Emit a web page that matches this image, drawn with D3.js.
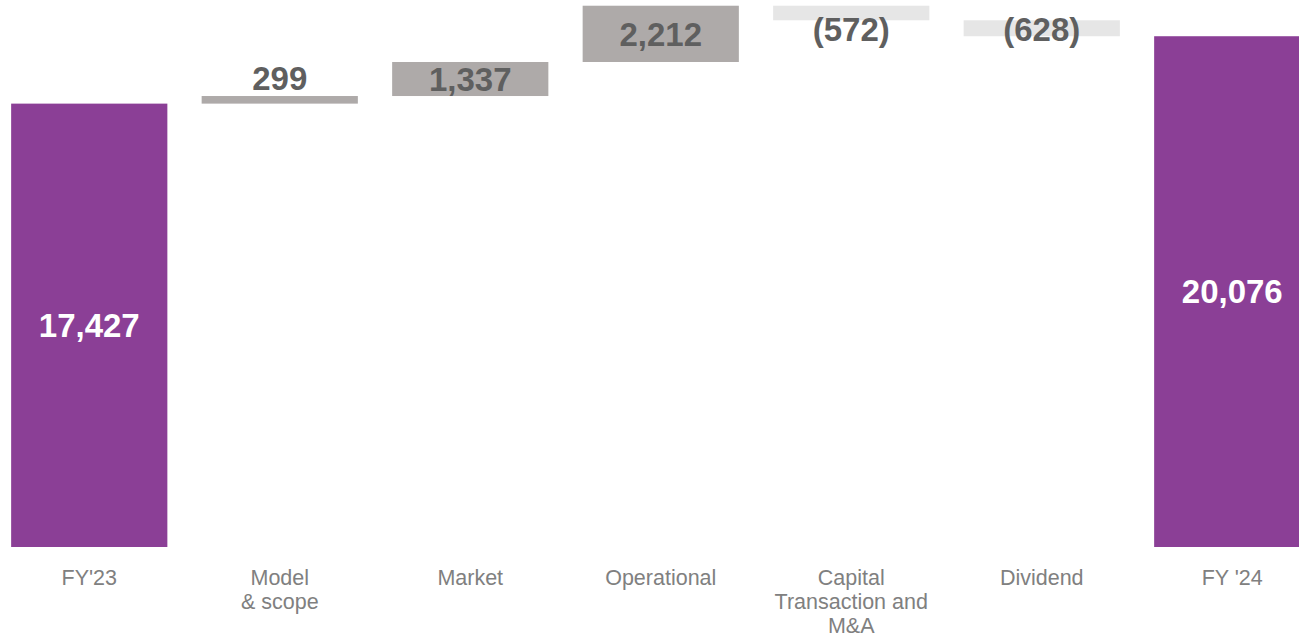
<!DOCTYPE html>
<html>
<head>
<meta charset="utf-8">
<script src="https://cdn.jsdelivr.net/npm/d3@7"></script>
<style>
  html, body { margin: 0; padding: 0; background: #ffffff; }
  svg { display: block; }
</style>
</head>
<body>
<svg id="chart" width="1299" height="640"></svg>
<script>
// Waterfall: FY'23 to FY'24 bridge
const categories = ["FY'23", "Model\n& scope", "Market", "Operational", "Capital\nTransaction and\nM&A", "Dividend", "FY '24"];
const kinds      = ["total", "delta", "delta", "delta", "delta", "delta", "total"];
const values     = [17427, 299, 1337, 2212, -572, -628, 20076];

const W = 1299, H = 640;
const svg = d3.select("#chart");

// running totals -> start/end for each step
let running = 0;
const steps = categories.map((c, i) => {
  let y0, y1;
  if (kinds[i] === "total") { y0 = 0; y1 = values[i]; running = values[i]; }
  else { y0 = running; y1 = running + values[i]; running = y1; }
  return { cat: c, kind: kinds[i], value: values[i], y0, y1 };
});

const x = d3.scaleBand()
  .domain(categories)
  .range([-6, 1327.5])
  .paddingInner(0.18)
  .paddingOuter(0.09);

const y = d3.scaleLinear().domain([0, 21500]).range([547, 0]);

const colorFor = d => d.kind === "total" ? "#8b3f96" : (d.value >= 0 ? "#aeaaa9" : "#e6e6e6");
const fmt = v => v < 0 ? "(" + d3.format(",")(-v) + ")" : d3.format(",")(v);

const g = svg.append("g");

g.selectAll("rect.bar")
  .data(steps)
  .join("rect")
  .attr("class", "bar")
  .attr("x", d => x(d.cat))
  .attr("width", x.bandwidth())
  .attr("y", d => y(Math.max(d.y0, d.y1)))
  .attr("height", d => Math.abs(y(d.y0) - y(d.y1)))
  .attr("fill", colorFor);

// value labels
const capHalf = 11.8;
g.selectAll("text.val")
  .data(steps)
  .join("text")
  .attr("class", "val")
  .attr("x", d => x(d.cat) + x.bandwidth() / 2)
  .attr("y", d => {
    const top = y(Math.max(d.y0, d.y1)), bot = y(Math.min(d.y0, d.y1));
    const mid = (top + bot) / 2;
    if (d.kind === "total") return mid + capHalf;
    if (d.value < 0) return Math.max(mid + capHalf, 41);
    if (bot - top < 30) return top - 6;
    return mid + capHalf;
  })
  .attr("text-anchor", "middle")
  .attr("font-family", "'Liberation Sans', Arial, sans-serif")
  .attr("font-weight", "bold")
  .attr("font-size", 33)
  .attr("fill", d => d.kind === "total" ? "#ffffff" : "#5f5f5f")
  .text(d => fmt(d.value));

// category labels
const lab = g.selectAll("text.cat")
  .data(steps)
  .join("text")
  .attr("class", "cat")
  .attr("x", d => x(d.cat) + x.bandwidth() / 2)
  .attr("y", 585)
  .attr("text-anchor", "middle")
  .attr("font-family", "'Liberation Sans', Arial, sans-serif")
  .attr("font-size", 21.5)
  .attr("fill", "#808080");

lab.selectAll("tspan")
  .data(d => d.cat.split("\n").map(t => ({ t, cx: x(d.cat) + x.bandwidth() / 2 })))
  .join("tspan")
  .attr("x", t => t.cx)
  .attr("dy", (t, i) => i === 0 ? 0 : 24)
  .text(t => t.t);
</script>
</body>
</html>
